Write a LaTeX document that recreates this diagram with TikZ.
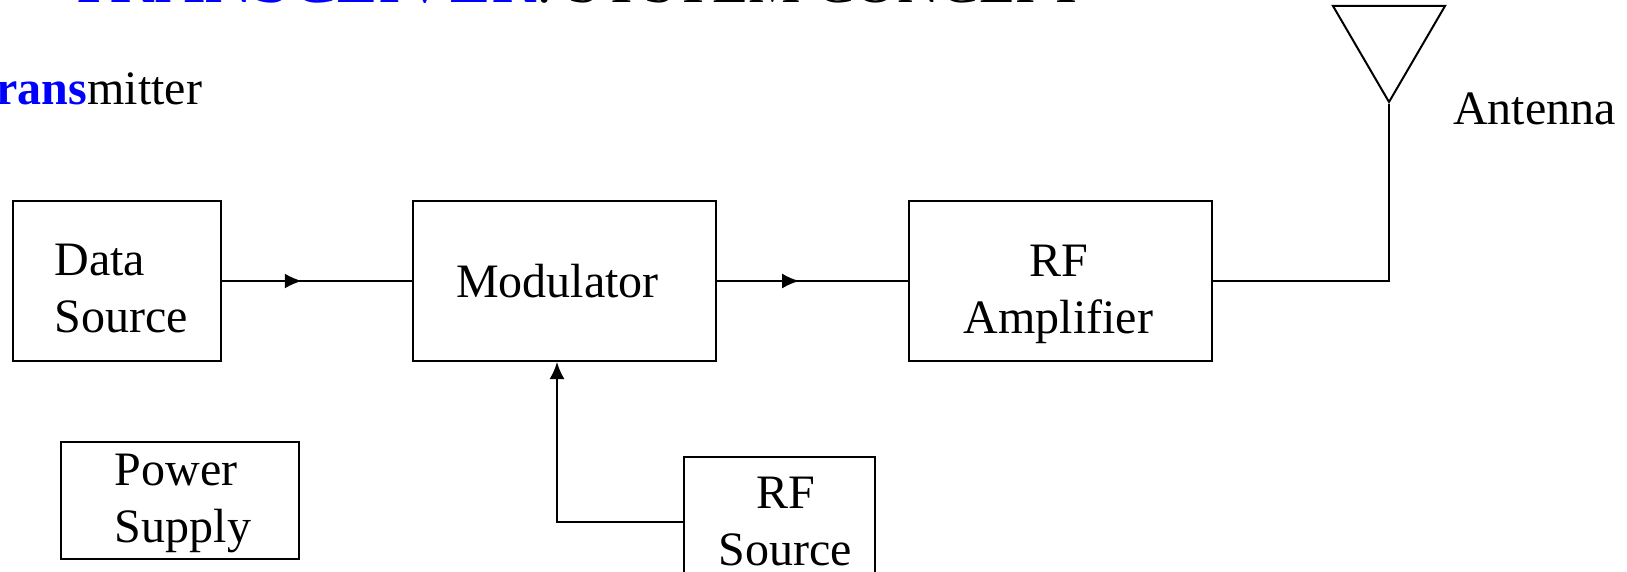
\documentclass[tikz,border=0pt]{standalone}
\usepackage{fontspec}
\setmainfont{Liberation Serif}
\usetikzlibrary{arrows.meta,decorations.markings}

\begin{document}
\begin{tikzpicture}[x=1pt,y=-1pt,
    blk/.style={draw,line width=2pt,inner sep=0pt},
    lbl/.style={inner sep=0pt,font=\fontsize{48}{57}\selectfont},
    txt/.style={anchor=base west,inner sep=0pt,font=\fontsize{48}{57}\selectfont},
    midarrow/.style={postaction={decorate},decoration={markings,
      mark=at position #1 with {\arrow{Latex[length=17pt,width=15pt]}}}}]
  \useasboundingbox (0,0) rectangle (1627,572);
  \clip (0,0) rectangle (1627,572);

  % title, cut off at the top edge
  \node[anchor=base west,inner sep=0pt,font=\fontsize{68}{70}\selectfont] (title) at (68,2.5)
    {\textcolor{blue}{TRANSCEIVER}{\fontsize{59}{70}\selectfont: SYSTEM CONCEPT}};
  \node[txt] (tx) at (-32,105) {\textcolor{blue}{\bfseries Trans}mitter};

  % blocks
  \node[blk,minimum width=208,minimum height=160,
    label={[lbl,align=left,xshift=4pt,yshift=-8pt]center:Data\\Source}] (ds) at (117,281) {};
  \node[blk,minimum width=303,minimum height=160,
    label={[lbl,xshift=-7pt]center:Modulator}] (mod) at (564.5,281) {};
  \node[blk,minimum width=303,minimum height=160,
    label={[lbl,align=center,xshift=-2pt,yshift=-13pt]center:RF\\Amplifier}] (amp) at (1060.5,281) {};
  \node[blk,minimum width=238,minimum height=117,
    label={[lbl,align=left,xshift=3pt,yshift=-3pt]center:Power\\Supply}] (ps) at (180,500.5) {};
  \node[blk,minimum width=191,minimum height=130,
    label={[lbl,align=center,xshift=6pt]center:RF\\Source}] (rfs) at (779.5,522) {};

  % antenna
  \coordinate (feed) at (1389,104);
  \draw[line width=2pt] (1333,6) -- (1445,6) -- (1389,102) -- cycle;
  \node[txt] (ant) at (1453,125) {Antenna};

  % connections
  \draw[line width=2pt,midarrow=0.42] (ds.east) -- (mod.west);
  \draw[line width=2pt,midarrow=0.43] (mod.east) -- (amp.west);
  \draw[line width=2pt,-{Latex[length=17pt,width=15pt]}] (rfs.west) -| ([xshift=-7.5pt]mod.south);
  \draw[line width=2pt] (amp.east) -| (feed);
\end{tikzpicture}
\end{document}
